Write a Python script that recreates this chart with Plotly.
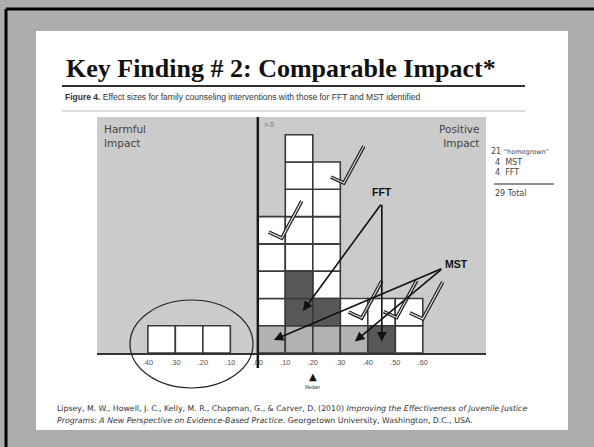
import plotly.graph_objects as go

# ---------------- data ----------------
bin_starts = [-0.4, -0.3, -0.2, 0.0, 0.1, 0.2, 0.3, 0.4, 0.5]
# cell types bottom -> top: H = "homegrown", M = MST, F = FFT
bin_stacks = [
    ["H"], ["H"], ["H"],
    ["M", "H", "H", "H", "H"],
    ["M", "F", "F", "H", "H", "H", "H", "H"],
    ["M", "F", "H", "H", "H", "H", "H"],
    ["M", "H"],
    ["F", "H"],
    ["H", "H"],
]
tick_vals = [-0.4, -0.3, -0.2, -0.1, 0.0, 0.1, 0.2, 0.3, 0.4, 0.5, 0.6]
tick_text = [".40", ".30", ".20", ".10", ".00", ".10", ".20", ".30", ".40", ".50", ".60"]
median_value = 0.20
counts_labels = ["21", "4", "4"]
counts_names = ["\u201chomegrown\u201d", "MST", "FFT"]
total_label = "29 Total"
# check marks: vertex position of each check (x, y in data units)
check_marks = [(0.087, 4.21), (0.313, 6.23), (0.378, 1.28), (0.505, 1.30), (0.60, 1.25)]
# arrows: label anchor and targets (x, y in data units)
fft_anchor = (0.451, 5.49)
fft_targets = [(0.164, 1.54), (0.451, 0.42)]
mst_anchor = (0.673, 3.11)
mst_targets = [(0.058, 0.48), (0.353, 0.42)]

colors = {"H": "#ffffff", "M": "#b2b2b2", "F": "#585858"}

# ---------------- geometry helpers ----------------
W, H = 594, 447
L, R, T, B = 97, 486, 117, 353
XMIN, XMAX = -0.585, 0.83
YMAX = 8.65


def xp(px):
    return (px - L) / (R - L)


def yp(py):
    return (B - py) / (B - T)


def dx(px):
    return px * (XMAX - XMIN) / (R - L)


def dy(py):
    return -py * YMAX / (B - T)


fig = go.Figure()

# cells
for kind in ["H", "M", "F"]:
    xs, bases = [], []
    for start, stack in zip(bin_starts, bin_stacks):
        for row, k in enumerate(stack):
            if k == kind:
                xs.append(round(start + 0.05, 3))
                bases.append(row)
    fig.add_trace(go.Bar(
        x=xs, y=[1] * len(xs), base=bases, width=0.1,
        marker=dict(color=colors[kind], line=dict(color="#3a3a3a", width=1.6)),
        showlegend=False, hoverinfo="skip"))

# check marks (outlined strokes)
for (cx, cy) in check_marks:
    xs = [cx + dx(-13), cx, cx + dx(20)]
    ys = [cy + dy(-6), cy, cy + dy(-37)]
    fig.add_trace(go.Scatter(x=xs, y=ys, mode="lines",
                             line=dict(color="#1e1e1e", width=3.6),
                             showlegend=False, hoverinfo="skip"))
    fig.add_trace(go.Scatter(x=xs, y=ys, mode="lines",
                             line=dict(color="#d8d8d8", width=1.2),
                             showlegend=False, hoverinfo="skip"))

shapes = []
# slide frame
shapes.append(dict(type="rect", xref="paper", yref="paper", layer="below",
                   x0=xp(36), x1=xp(568), y0=yp(430), y1=yp(31),
                   fillcolor="#ffffff", line=dict(width=0)))
# black border lines
shapes.append(dict(type="line", xref="paper", yref="paper",
                   x0=xp(6), x1=xp(594), y0=yp(9), y1=yp(9),
                   line=dict(color="#000", width=3)))
shapes.append(dict(type="line", xref="paper", yref="paper",
                   x0=xp(6), x1=xp(6), y0=yp(9), y1=yp(447),
                   line=dict(color="#000", width=3)))
# gray chart panel
shapes.append(dict(type="rect", xref="paper", yref="paper", layer="below",
                   x0=0, x1=1, y0=0, y1=1, fillcolor="#cbcbcb", line=dict(width=0)))
# title rule and caption rule
shapes.append(dict(type="line", xref="paper", yref="paper",
                   x0=xp(62), x1=xp(525), y0=yp(86), y1=yp(86),
                   line=dict(color="#333", width=2)))
shapes.append(dict(type="line", xref="paper", yref="paper",
                   x0=xp(62), x1=xp(525), y0=yp(111), y1=yp(111),
                   line=dict(color="#cfcfcf", width=1.5)))
# vertical zero line (extends below the baseline)
zero_px = L + (0 - XMIN) / (XMAX - XMIN) * (R - L)
shapes.append(dict(type="line", xref="paper", yref="paper",
                   x0=xp(zero_px), x1=xp(zero_px), y0=yp(368), y1=1,
                   line=dict(color="#1a1a1a", width=2.5)))
# ellipse around harmful cells
shapes.append(dict(type="circle", xref="paper", yref="paper",
                   x0=xp(130), x1=xp(253), y0=yp(388), y1=yp(300),
                   line=dict(color="#222", width=1.2)))
# counts rule
shapes.append(dict(type="line", xref="paper", yref="paper",
                   x0=xp(494), x1=xp(554), y0=yp(184), y1=yp(184),
                   line=dict(color="#222", width=1)))

ann = []
sans = "DejaVu Sans"
ann.append(dict(xref="paper", yref="paper", x=xp(64), y=yp(68), xanchor="left", yanchor="middle",
                text="<b>Key Finding # 2: Comparable Impact*</b>", showarrow=False,
                font=dict(family="Liberation Serif", size=26, color="#111")))
ann.append(dict(xref="paper", yref="paper", x=xp(63), y=yp(97), xanchor="left", yanchor="middle",
                text="<b>Figure 4.</b> Effect sizes for family counseling interventions with those for FFT and MST identified",
                showarrow=False,
                font=dict(family="Liberation Sans Narrow, Liberation Sans", size=8.5, color="#333")))
ann.append(dict(xref="paper", yref="paper", x=xp(102), y=yp(121), xanchor="left", yanchor="top",
                text="Harmful<br>Impact", showarrow=False, align="left",
                font=dict(family=sans, size=10.5, color="#444")))
ann.append(dict(xref="paper", yref="paper", x=xp(481), y=yp(121), xanchor="right", yanchor="top",
                text="Positive<br>Impact", showarrow=False, align="right",
                font=dict(family=sans, size=10.5, color="#444")))
ann.append(dict(xref="paper", yref="paper", x=xp(262), y=yp(124), xanchor="left", yanchor="middle",
                text="&gt;.0", showarrow=False,
                font=dict(family="Liberation Sans Narrow, Liberation Sans", size=7, color="#666")))
# median marker and label
ann.append(dict(xref="x", yref="paper", x=median_value, y=yp(376), xanchor="center", yanchor="middle",
                text="\u25b2", showarrow=False,
                font=dict(family="DejaVu Sans", size=10, color="#111")))
ann.append(dict(xref="x", yref="paper", x=median_value, y=yp(387), xanchor="center", yanchor="middle",
                text="Median", showarrow=False,
                font=dict(family="Liberation Sans", size=4.5, color="#333")))
# FFT / MST labels and arrows
ann.append(dict(xref="x", yref="y", x=fft_anchor[0], y=fft_anchor[1] + dy(-11), text="<b>FFT</b>",
                showarrow=False, yanchor="middle",
                font=dict(family="Liberation Sans Narrow, Liberation Sans", size=10.5, color="#111")))
ann.append(dict(xref="x", yref="y", x=mst_anchor[0] + dx(14), y=mst_anchor[1] + dy(-4), text="<b>MST</b>",
                showarrow=False, xanchor="center", yanchor="middle",
                font=dict(family="Liberation Sans Narrow, Liberation Sans", size=10.5, color="#111")))
for (tx, ty) in fft_targets:
    ann.append(dict(xref="x", yref="y", axref="x", ayref="y", x=tx, y=ty,
                    ax=fft_anchor[0], ay=fft_anchor[1], text="", showarrow=True,
                    arrowhead=2, arrowsize=1.2, arrowwidth=1.6, arrowcolor="#111"))
for (tx, ty) in mst_targets:
    ann.append(dict(xref="x", yref="y", axref="x", ayref="y", x=tx, y=ty,
                    ax=mst_anchor[0], ay=mst_anchor[1], text="", showarrow=True,
                    arrowhead=2, arrowsize=1.2, arrowwidth=1.6, arrowcolor="#111"))
# counts
count_y = [151, 162, 172]
for i, (n, name) in enumerate(zip(counts_labels, counts_names)):
    if i == 0:
        txt = n + ' <span style="font-size:6.5px">' + name + "</span>"
        x0 = 489
    else:
        txt = n + "  " + name
        x0 = 493
    ann.append(dict(xref="paper", yref="paper", x=xp(x0), y=yp(count_y[i]), xanchor="left",
                    yanchor="middle", text=txt, showarrow=False,
                    font=dict(family=sans, size=8, color="#444")))
ann.append(dict(xref="paper", yref="paper", x=xp(493), y=yp(193), xanchor="left", yanchor="middle",
                text=total_label, showarrow=False, font=dict(family=sans, size=8, color="#444")))
# citation
ann.append(dict(xref="paper", yref="paper", x=xp(55), y=yp(408), xanchor="left", yanchor="middle",
                text="Lipsey, M. W., Howell, J. C., Kelly, M. R., Chapman, G., & Carver, D. (2010) "
                     "<i>Improving the Effectiveness of Juvenile Justice</i>",
                showarrow=False, font=dict(family=sans, size=7.8, color="#333")))
ann.append(dict(xref="paper", yref="paper", x=xp(55), y=yp(420), xanchor="left", yanchor="middle",
                text="<i>Programs: A New Perspective on Evidence-Based Practice</i>. "
                     "Georgetown University, Washington, D.C., USA.",
                showarrow=False, font=dict(family=sans, size=7.8, color="#333")))

fig.update_layout(
    width=W, height=H,
    margin=dict(l=L, r=W - R, t=T, b=H - B, pad=0),
    paper_bgcolor="#adadad", plot_bgcolor="rgba(0,0,0,0)",
    barmode="overlay", showlegend=False,
    shapes=shapes, annotations=ann,
    xaxis=dict(range=[XMIN, XMAX], tickvals=tick_vals, ticktext=tick_text,
               showgrid=False, zeroline=False, showline=True, linecolor="#333", linewidth=2,
               ticks="outside", ticklen=1, tickcolor="rgba(0,0,0,0)",
               tickfont=dict(family="Liberation Sans Narrow, Liberation Sans", size=7.5, color="#555"),
               fixedrange=True),
    yaxis=dict(range=[0, YMAX], visible=False, showgrid=False, zeroline=False, fixedrange=True),
)

fig.write_html("out.html", config={"displayModeBar": False},
               post_script="document.body.style.margin='0';")
